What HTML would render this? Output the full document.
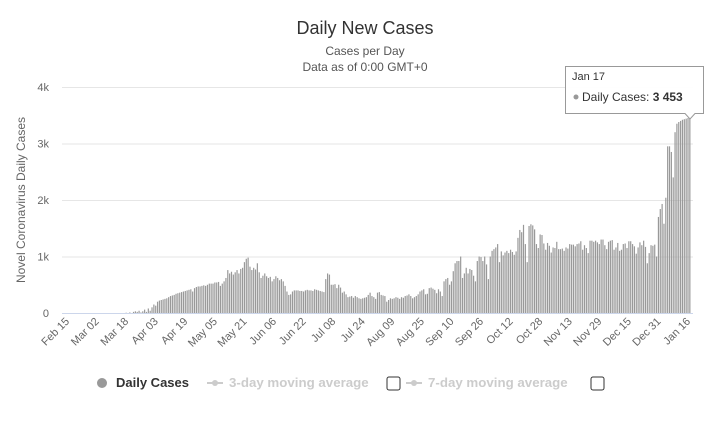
<!DOCTYPE html>
<html><head><meta charset="utf-8"><style>
body{margin:0;background:#fff;font-family:"Liberation Sans",sans-serif}
svg{display:block}
</style></head><body>
<svg id="chart" width="725" height="438">
<rect width="725" height="438" fill="#fff"/>
<text x="365" y="34" text-anchor="middle" font-size="18" fill="#333">Daily New Cases</text>
<text x="365" y="55" text-anchor="middle" font-size="12" fill="#555">Cases per Day</text>
<text x="365" y="71" text-anchor="middle" font-size="12" fill="#555">Data as of 0:00 GMT+0</text>
<g id="grid"></g>
<g id="bars"></g>
<g id="xlabels"></g>
<text transform="translate(25,200) rotate(-90)" text-anchor="middle" font-size="12" fill="#666">Novel Coronavirus Daily Cases</text>
<g>
<g>
<circle cx="102" cy="383" r="5" fill="#999"/>
<text x="116" y="387" font-size="13" font-weight="bold" fill="#333">Daily Cases</text></g>
<g>
<line x1="207" y1="383" x2="223" y2="383" stroke="#ccc" stroke-width="2"/><circle cx="215" cy="383" r="3" fill="#ccc"/>
<text x="229" y="387" font-size="13.3" font-weight="bold" fill="#ccc">3-day moving average</text></g>
<rect x="387" y="377" width="13" height="13" rx="2" fill="#fff" stroke="#333"/>
<g>
<line x1="406" y1="383" x2="422" y2="383" stroke="#ccc" stroke-width="2"/><circle cx="414" cy="383" r="3" fill="#ccc"/>
<text x="428" y="387" font-size="13.3" font-weight="bold" fill="#ccc">7-day moving average</text></g>
<rect x="591" y="377" width="13" height="13" rx="2" fill="#fff" stroke="#333"/>
</g>
<g>
<path d="M565.5,66.5 H703.5 V113.5 H695 L690,119 L685,113.5 H565.5 Z" fill="#fff" fill-opacity="0.95" stroke="#999"/>
<text x="572" y="80" font-size="11" fill="#333">Jan 17</text>
<circle cx="576" cy="97" r="2.5" fill="#999"/>
<text x="582" y="101" font-size="12" fill="#333">Daily Cases: <tspan font-weight="bold">3 453</tspan></text>
</g>
</svg>
<script>
const feb=[0,0,0,0,0,0,0,0,0,0,0,0,0,0,0];
const mar=[0,0,0,0,0,0,0,0,0,0,0,0,0,0,0,0,0,5,0,10,0,20,30,20,40,10,30,60,20,80,40];
const apr=[100,150,130,200,220,230,240,250,260,280,300,310,320,340,350,360,370,380,390,400,410,420,380,440,460,470,470,480,490,480];
const may=[500,520,520,520,540,540,550,480,520,560,620,760,700,730,680,720,760,700,780,800,900,960,980,820,760,800,770,880,720,620,660];
const jun=[700,650,620,640,560,600,650,620,580,600,560,480,380,320,330,380,400,400,400,390,390,380,400,410,400,400,390,420,410,400];
const jul=[390,380,370,600,700,680,500,500,510,440,500,450,360,380,330,280,290,300,270,300,280,260,250,260,270,280,320,360,300,280,250];
const aug=[360,370,320,310,300,200,230,260,250,260,280,270,250,280,270,300,310,330,300,260,280,300,330,380,400,420,330,340,440,450,430];
const sep=[410,350,420,380,300,560,600,620,500,560,740,880,920,920,1000,620,700,800,700,780,760,660,560,920,1000,990,920,1000,860,600];
const oct=[1000,1100,1130,1160,1220,900,1090,1020,1070,1100,1060,1120,1080,1030,1090,1330,1470,1430,1560,1220,900,1540,1570,1550,1480,1220,1150,1390,1380,1230,1120];
const nov=[1240,1190,1070,1160,1150,1260,1130,1130,1140,1100,1160,1140,1220,1210,1210,1180,1220,1230,1270,1120,1200,1150,1060,1280,1280,1260,1280,1250,1220,1300];
const dec=[1300,1200,1130,1260,1280,1290,1120,1160,1240,1100,1120,1220,1230,1150,1270,1270,1220,1180,1050,1160,1250,1200,1280,1170,880,1060,1200,1190,1210,1000,1700];
const jan=[1840,1930,1580,2040,2950,2950,2850,2400,3200,3350,3380,3400,3420,3430,3440,3450,3453];
const yTicks=[0,1000,2000,3000,4000];
const yTickLabels=["0","1k","2k","3k","4k"];
const xTickLabels=["Feb 15","Mar 02","Mar 18","Apr 03","Apr 19","May 05","May 21","Jun 06","Jun 22","Jul 08","Jul 24","Aug 09","Aug 25","Sep 10","Sep 26","Oct 12","Oct 28","Nov 13","Nov 29","Dec 15","Dec 31","Jan 16"];
const values=[].concat(feb,mar,apr,may,jun,jul,aug,sep,oct,nov,dec,jan);
const NS="http://www.w3.org/2000/svg";
const x0=67,dx=(688-67)/336;
function xs(i){return x0+i*dx;}
function ys(v){return 313-v*(226/4000);}
const grid=document.getElementById('grid');
yTicks.forEach((t,k)=>{
 const l=document.createElementNS(NS,'line');
 l.setAttribute('x1',62);l.setAttribute('x2',693);
 l.setAttribute('y1',ys(t)+0.5);l.setAttribute('y2',ys(t)+0.5);
 l.setAttribute('stroke',t===0?'#ccd6eb':'#e6e6e6');
 
 
 grid.appendChild(l);
 const tx=document.createElementNS(NS,'text');
 tx.setAttribute('x',49);tx.setAttribute('y',ys(t)+4);
 tx.setAttribute('text-anchor','end');tx.setAttribute('font-size','11');tx.setAttribute('fill','#666');
 tx.textContent=yTickLabels[k];
 
 
 grid.appendChild(tx);
});
const bars=document.getElementById('bars');
values.forEach((v,i)=>{
 const r=document.createElementNS(NS,'rect');
 const h=313-ys(v);
 r.setAttribute('x',xs(i)-0.6);r.setAttribute('y',ys(v));
 r.setAttribute('width',1.2);r.setAttribute('height',h);
 r.setAttribute('fill','#999');
 
 
 bars.appendChild(r);
});
const xl=document.getElementById('xlabels');
xTickLabels.forEach((lab,k)=>{
 const t=document.createElementNS(NS,'text');
 const x=xs(k*16)+3,y=322;
 t.setAttribute('transform','translate('+x+','+y+') rotate(-45)');
 t.setAttribute('text-anchor','end');t.setAttribute('font-size','11');t.setAttribute('fill','#666');
 t.textContent=lab;
 
 
 xl.appendChild(t);
});
</script>
</body></html>
